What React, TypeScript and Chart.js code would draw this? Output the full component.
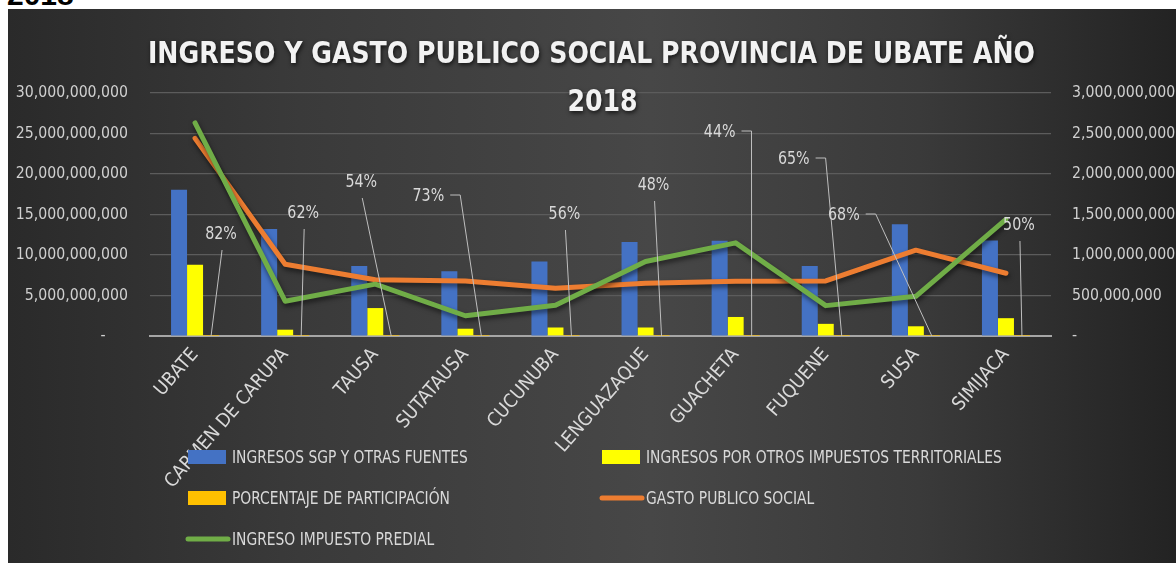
import React, { useEffect, useRef } from "react";
import { Chart, registerables } from "chart.js";

Chart.register(...registerables);

// ---------- DATA ----------
const categories = [
  "UBATE",
  "CARMEN DE CARUPA",
  "TAUSA",
  "SUTATAUSA",
  "CUCUNUBA",
  "LENGUAZAQUE",
  "GUACHETA",
  "FUQUENE",
  "SUSA",
  "SIMIJACA",
];
const ingresosSGP = [18.05e9, 13.2e9, 8.65e9, 8.0e9, 9.2e9, 11.6e9, 11.75e9, 8.65e9, 13.8e9, 11.8e9];
const ingresosOtros = [8.8e9, 0.78e9, 3.45e9, 0.9e9, 1.05e9, 1.05e9, 2.35e9, 1.5e9, 1.2e9, 2.2e9];
const porcentaje = [0.82, 0.62, 0.54, 0.73, 0.56, 0.48, 0.44, 0.65, 0.68, 0.5];
const gastoPublico = [24.4e9, 8.85e9, 6.95e9, 6.8e9, 5.9e9, 6.5e9, 6.75e9, 6.8e9, 10.6e9, 7.75e9];
const predial = [2.63e9, 0.43e9, 0.64e9, 0.25e9, 0.38e9, 0.92e9, 1.15e9, 0.375e9, 0.49e9, 1.44e9];

const seriesNames = [
  "INGRESOS SGP Y OTRAS FUENTES",
  "INGRESOS POR OTROS IMPUESTOS TERRITORIALES",
  "PORCENTAJE DE PARTICIPACIÓN",
  "GASTO PUBLICO SOCIAL",
  "INGRESO IMPUESTO PREDIAL",
];
const titleLines = ["INGRESO Y GASTO PUBLICO SOCIAL PROVINCIA DE UBATE AÑO", "2018"];

const leftAxisMax = 30e9;
const leftAxisStep = 5e9;
const rightAxisMax = 3e9;
const rightAxisStep = 5e8;

// ---------- STYLE / LAYOUT ----------
const FONT = '"DejaVu Sans Condensed", "DejaVu Sans", sans-serif';
const colors = ["#4472c4", "#ffff00", "#ffc000", "#ed7d31", "#70ad47"];
const textGray = "#d9d9d9";
const TEXT_SQUEEZE = 0.88;

// manual label placement for percentage data labels (offset from bar base, px)
const pctLabelLayout = [
  { dx: 10, dy: -102, leader: "below" },
  { dx: 2, dy: -123, leader: "below" },
  { dx: -30, dy: -154, leader: "below" },
  { dx: -53, dy: -140, leader: "side" },
  { dx: -7, dy: -122, leader: "below" },
  { dx: -8, dy: -151, leader: "below" },
  { dx: -32, dy: -204, leader: "side" },
  { dx: -48, dy: -177, leader: "side" },
  { dx: -88, dy: -121, leader: "side" },
  { dx: -3, dy: -111, leader: "below" },
];

// legend grid (canvas px)
const legendCols = [180, 594];
const legendRows = [448, 489, 530];
const legendSlots = [
  { col: 0, row: 0, kind: "box" },
  { col: 1, row: 0, kind: "box" },
  { col: 0, row: 1, kind: "box" },
  { col: 1, row: 1, kind: "line" },
  { col: 0, row: 2, kind: "line" },
];

const fmt = (v: number) => Math.round(v).toLocaleString("en-US");

function squeezedText(ctx: CanvasRenderingContext2D, text: string, x: number, y: number, sx: number) {
  ctx.save();
  ctx.translate(x, y);
  ctx.scale(sx, 1);
  ctx.fillText(text, 0, 0);
  ctx.restore();
}

const shadowPlugin = {
  id: "lineShadow",
  beforeDatasetDraw(chart: any, args: any) {
    const ds = chart.data.datasets[args.index];
    chart.ctx.save();
    if (ds.type === "line") {
      chart.ctx.shadowColor = "rgba(0,0,0,0.55)";
      chart.ctx.shadowBlur = 5;
      chart.ctx.shadowOffsetX = 1;
      chart.ctx.shadowOffsetY = 3;
    }
  },
  afterDatasetDraw(chart: any) {
    chart.ctx.restore();
  },
};

const pctLabelPlugin = {
  id: "pctLabels",
  afterDatasetsDraw(chart: any) {
    const ctx = chart.ctx;
    const meta = chart.getDatasetMeta(2);
    ctx.save();
    ctx.font = `18px ${FONT}`;
    ctx.textAlign = "center";
    ctx.textBaseline = "middle";
    meta.data.forEach((el: any, i: number) => {
      const L = pctLabelLayout[i];
      const bx = el.x;
      const by = el.y;
      const tx = bx + L.dx;
      const ty = by + L.dy;
      const text = Math.round(porcentaje[i] * 100) + "%";
      ctx.fillStyle = textGray;
      squeezedText(ctx, text, tx, ty, TEXT_SQUEEZE);
      ctx.strokeStyle = "#bfbfbf";
      ctx.lineWidth = 1;
      ctx.beginPath();
      if (L.leader === "below") {
        ctx.moveTo(tx + 1, ty + 16);
        ctx.lineTo(bx, by);
      } else {
        const w = ctx.measureText(text).width * TEXT_SQUEEZE;
        const sx = tx + w / 2 + 6;
        ctx.moveTo(sx, ty - 1);
        ctx.lineTo(sx + 10, ty - 1);
        ctx.lineTo(bx, by);
      }
      ctx.stroke();
    });
    ctx.restore();
  },
};

const titlePlugin = {
  id: "excelTitle",
  afterDraw(chart: any) {
    const ctx = chart.ctx;
    ctx.save();
    ctx.font = `bold 31px ${FONT}`;
    ctx.fillStyle = "#f2f2f2";
    ctx.textAlign = "center";
    ctx.textBaseline = "alphabetic";
    const natural = ctx.measureText(titleLines[0]).width;
    const sx = 887 / natural;
    ctx.shadowColor = "rgba(0,0,0,0.7)";
    ctx.shadowBlur = 4;
    ctx.shadowOffsetX = 1;
    ctx.shadowOffsetY = 2;
    squeezedText(ctx, titleLines[0], 583.5, 54, sx);
    squeezedText(ctx, titleLines[1], 594.5, 101.5, sx);
    ctx.restore();
  },
};

const legendPlugin = {
  id: "excelLegend",
  afterDraw(chart: any) {
    const ctx = chart.ctx;
    ctx.save();
    ctx.font = `17.5px ${FONT}`;
    ctx.textBaseline = "middle";
    ctx.textAlign = "left";
    legendSlots.forEach((slot, i) => {
      const x = legendCols[slot.col];
      const y = legendRows[slot.row];
      if (slot.kind === "box") {
        ctx.fillStyle = colors[i];
        ctx.fillRect(x, y - 7, 38, 14);
      } else {
        ctx.strokeStyle = colors[i];
        ctx.lineWidth = 5;
        ctx.lineCap = "round";
        ctx.beginPath();
        ctx.moveTo(x, y);
        ctx.lineTo(x + 40, y);
        ctx.stroke();
      }
      ctx.fillStyle = textGray;
      squeezedText(ctx, seriesNames[i], x + 44, y + 1, TEXT_SQUEEZE);
    });
    ctx.restore();
  },
};

export default function App() {
  const ref = useRef<HTMLCanvasElement>(null);

  useEffect(() => {
    const canvas = ref.current!;
    const chart = new Chart(canvas, {
      type: "bar",
      data: {
        labels: categories,
        datasets: [
          { type: "bar", label: seriesNames[0], data: ingresosSGP, backgroundColor: colors[0], yAxisID: "y", order: 2 },
          { type: "bar", label: seriesNames[1], data: ingresosOtros, backgroundColor: colors[1], yAxisID: "y", order: 2 },
          { type: "bar", label: seriesNames[2], data: porcentaje, backgroundColor: colors[2], yAxisID: "y", order: 2 },
          {
            type: "line",
            label: seriesNames[3],
            data: gastoPublico,
            borderColor: colors[3],
            backgroundColor: colors[3],
            borderWidth: 5,
            pointRadius: 0,
            tension: 0,
            yAxisID: "y",
            order: 1,
            borderCapStyle: "round",
            borderJoinStyle: "round",
          } as any,
          {
            type: "line",
            label: seriesNames[4],
            data: predial,
            borderColor: colors[4],
            backgroundColor: colors[4],
            borderWidth: 5,
            pointRadius: 0,
            tension: 0,
            yAxisID: "y1",
            order: 0,
            borderCapStyle: "round",
            borderJoinStyle: "round",
          } as any,
        ],
      },
      options: {
        responsive: false,
        animation: false,
        devicePixelRatio: 1,
        layout: { padding: { top: 84, left: 0, right: 0, bottom: 0 } },
        datasets: {
          bar: { barPercentage: 1, categoryPercentage: 0.533 },
        },
        plugins: {
          legend: { display: false },
          title: { display: false },
          tooltip: { enabled: false },
        },
        scales: {
          x: {
            offset: true,
            grid: { display: false, drawTicks: false, tickLength: 0 },
            border: { display: true, color: "#a6a6a6", width: 2 },
            ticks: {
              autoSkip: false,
              minRotation: 49,
              maxRotation: 49,
              padding: 8,
              color: textGray,
              font: { family: FONT, size: 19 },
            },
            afterFit: (s: any) => {
              s.height = 227;
            },
          },
          y: {
            position: "left",
            min: 0,
            max: leftAxisMax,
            grid: { color: "#5c5c5c", lineWidth: 1.2, drawTicks: false, tickLength: 0 },
            border: { display: false },
            ticks: {
              stepSize: leftAxisStep,
              padding: 22,
              color: "#d0d0d0",
              font: { family: FONT, size: 15.7 },
              callback: (v: any) => (Number(v) === 0 ? "-     " : fmt(Number(v))),
            },
            afterFit: (s: any) => {
              s.width = 142;
            },
          },
          y1: {
            position: "right",
            min: 0,
            max: rightAxisMax,
            grid: { drawOnChartArea: false, drawTicks: false, tickLength: 0 },
            border: { display: false },
            ticks: {
              stepSize: rightAxisStep,
              padding: 21,
              color: "#d0d0d0",
              font: { family: FONT, size: 15.7 },
              callback: (v: any) => (Number(v) === 0 ? "-" : fmt(Number(v))),
            },
            afterFit: (s: any) => {
              s.width = 125;
            },
          },
        },
      },
      plugins: [shadowPlugin, pctLabelPlugin, titlePlugin, legendPlugin],
    } as any);
    return () => chart.destroy();
  }, []);

  return (
    <div
      style={{
        position: "fixed",
        left: 0,
        top: 0,
        width: 1176,
        height: 563,
        overflow: "hidden",
        background: "#ffffff",
      }}
    >
      <div
        style={{
          position: "absolute",
          left: 7,
          top: -20,
          font: 'bold 30px "Liberation Sans", Arial, sans-serif',
          lineHeight: "30px",
          color: "#000",
        }}
      >
        2018
      </div>
      <div
        style={{
          position: "absolute",
          left: 8,
          top: 9,
          width: 1168,
          height: 554,
          background:
            "linear-gradient(90deg, #2a2a2a 0%, #3a3a3a 25%, #474747 55%, #3a3a3a 78%, #232323 100%)",
        }}
      >
        <canvas ref={ref} width={1168} height={554} style={{ display: "block" }} />
      </div>
    </div>
  );
}
